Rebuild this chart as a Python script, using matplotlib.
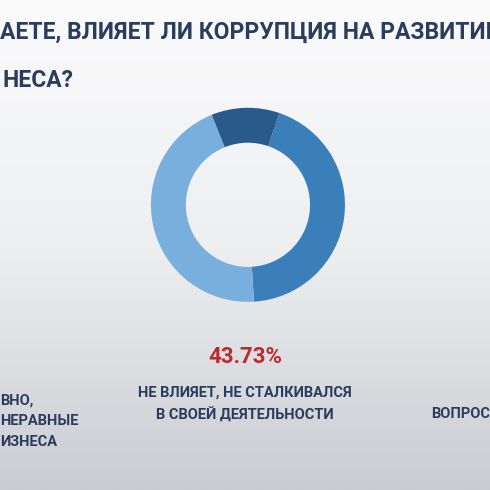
import numpy as np
import matplotlib.pyplot as plt
from matplotlib.colors import LinearSegmentedColormap

labels = ["Не влияет, не сталкивался", "Другие ответы", "Негативно"]
values = [43.73, 44.90, 11.37]
colors = ["#3b7fba", "#79afdc", "#2a5a8c"]

plt.rcParams['font.family'] = ['Roboto', 'DejaVu Sans']

fig = plt.figure(figsize=(4.9, 4.9), dpi=100)
bg = fig.add_axes([0, 0, 1, 1])
grad = np.linspace(0, 1, 256).reshape(-1, 1)
cm = LinearSegmentedColormap.from_list("bg", ["#fbfbfc", "#eeeff1", "#c9ccd1"])
bg.imshow(grad, aspect='auto', cmap=cm, extent=[0, 1, 0, 1], origin='upper')
bg.set_xlim(0, 1)
bg.set_ylim(0, 1)
bg.axis('off')

navy = "#2b3d5e"
bg.text(0.0, 0.935, "АЕТЕ, ВЛИЯЕТ ЛИ КОРРУПЦИЯ НА РАЗВИТИЕ", fontsize=16.5, fontweight='bold',
        color=navy, va='center', ha='left')
bg.text(0.005, 0.835, "НЕСА?", fontsize=16.5, fontweight='bold', color=navy, va='center', ha='left')

ax = fig.add_axes([0.308, 0.384, 0.396, 0.396])
ax.pie(values, colors=colors, startangle=71, counterclock=False,
       wedgeprops=dict(width=0.36, linewidth=0))
ax.set_xlim(-1, 1)
ax.set_ylim(-1, 1)
ax.set_aspect('equal')

bg.text(0.5, 0.272, "43.73%", fontsize=16, fontweight='bold', color="#c0282d", ha='center', va='center')
bg.text(0.5, 0.175, "НЕ ВЛИЯЕТ, НЕ СТАЛКИВАЛСЯ\nВ СВОЕЙ ДЕЯТЕЛЬНОСТИ", fontsize=10.5, fontweight='bold',
        color=navy, ha='center', va='center', linespacing=1.6)
bg.text(0.0, 0.14, "ВНО,\nНЕРАВНЫЕ\nИЗНЕСА", fontsize=10.5, fontweight='bold',
        color=navy, ha='left', va='center', linespacing=1.6)
bg.text(0.88, 0.155, "ВОПРОСЫ", fontsize=10.5, fontweight='bold', color=navy, ha='left', va='center')

fig.savefig("out.png", dpi=100)
